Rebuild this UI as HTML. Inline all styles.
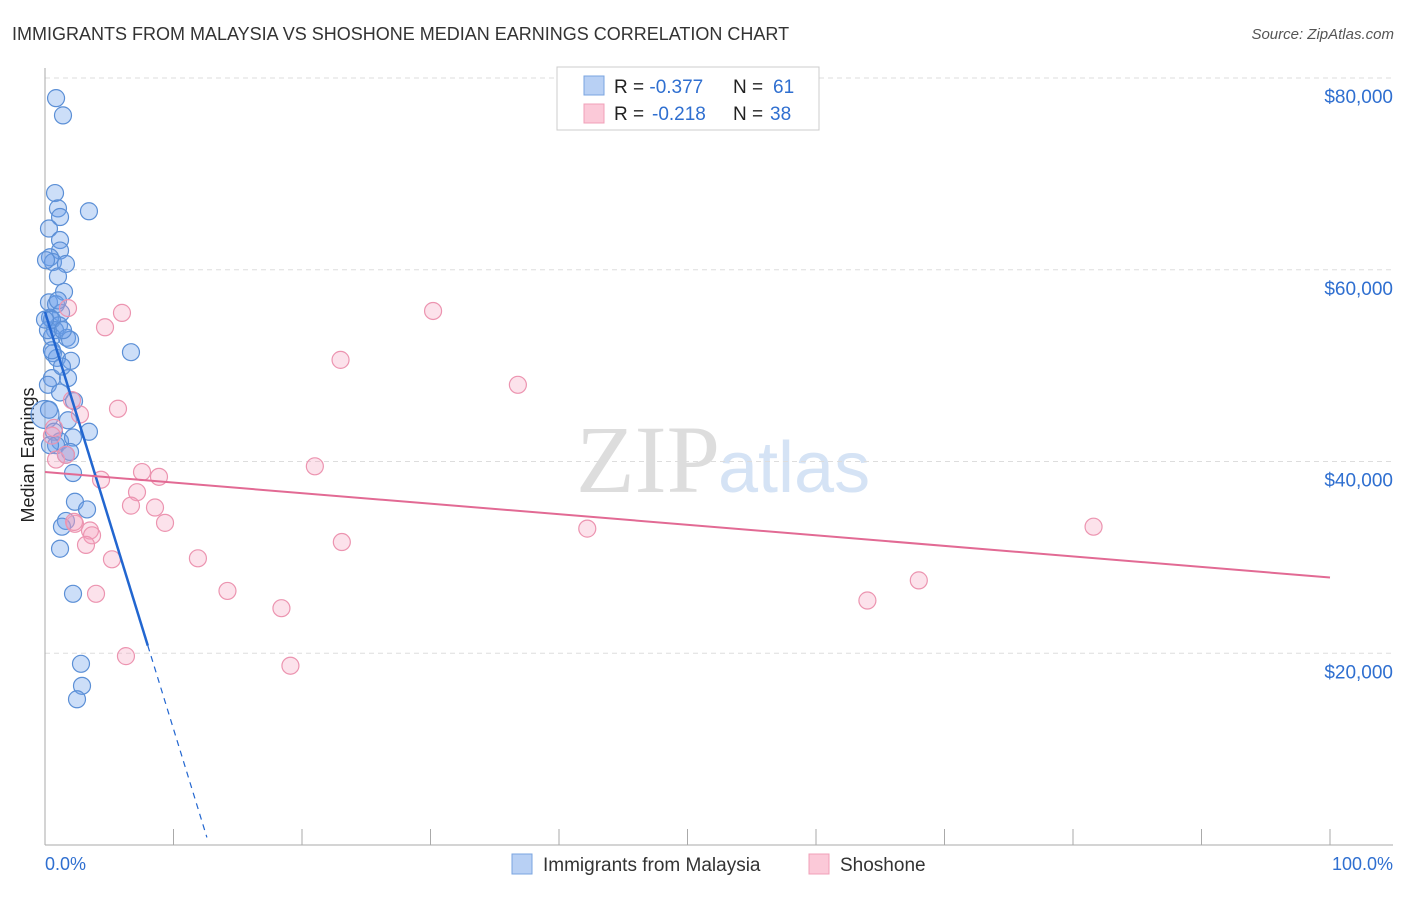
<!DOCTYPE html>
<html><head><meta charset="utf-8"><style>
body{margin:0;background:#fff;font-family:"Liberation Sans",sans-serif}
</style></head><body>
<svg id="c" width="1406" height="892" xmlns="http://www.w3.org/2000/svg">
<text x="12" y="40" font-size="18" fill="#333">IMMIGRANTS FROM MALAYSIA VS SHOSHONE MEDIAN EARNINGS CORRELATION CHART</text>
<text x="1394" y="39" font-size="15" fill="#555" font-style="italic" text-anchor="end">Source: ZipAtlas.com</text>
<text x="720" y="492" font-size="96" fill="#ddd" font-family="Liberation Serif,serif" text-anchor="end">ZIP</text>
<text x="718" y="492" font-size="72" fill="#d5e3f5">atlas</text>
<text transform="translate(34,455) rotate(-90)" font-size="18" fill="#222" text-anchor="middle">Median Earnings</text>
<g id="grid"></g><g id="pts"></g><g id="lines"></g>
<g>
<rect x="557" y="67" width="262" height="63" fill="#fff" stroke="#ccc"/>
<rect x="584" y="76" width="20" height="19" fill="#b8d0f4" stroke="#7aa4e0"/>
<rect x="584" y="104" width="20" height="19" fill="#fbc9d8" stroke="#f0a0b8"/>
<text x="614" y="93" font-size="19" fill="#222">R = <tspan fill="#2f6fd0">-0.377</tspan><tspan x="733">N = </tspan><tspan fill="#2f6fd0" x="773">61</tspan></text>
<text x="614" y="120" font-size="19" fill="#222">R = <tspan fill="#2f6fd0" x="652">-0.218</tspan><tspan x="733">N = </tspan><tspan fill="#2f6fd0" x="770">38</tspan></text>
</g>
<g>
<rect x="512" y="854" width="20" height="20" fill="#b8d0f4" stroke="#7aa4e0"/>
<text x="543" y="871" font-size="19" fill="#333">Immigrants from Malaysia</text>
<rect x="809" y="854" width="20" height="20" fill="#fbc9d8" stroke="#f0a0b8"/>
<text x="840" y="871" font-size="19" fill="#333">Shoshone</text>
</g>
<text x="45" y="870" font-size="18" fill="#2f6fd0">0.0%</text>
<text x="1393" y="870" font-size="18" fill="#2f6fd0" text-anchor="end">100.0%</text>
</svg>
<script>
const yTicks=[20,40,60,80];
const yTickLabels=["$20,000","$40,000","$60,000","$80,000"];
const blueX=[0.86,1.40,0.78,3.42,1.01,1.17,0.31,1.17,1.17,0.39,0.62,1.63,1.01,1.48,0.31,0.86,1.25,0.39,1.09,0.78,1.71,0.54,0.62,0.93,2.02,6.69,0.54,1.79,0.23,1.17,2.26,0.0,0.70,3.42,1.17,2.18,0.86,1.95,1.63,2.18,2.33,3.27,1.63,1.32,1.17,2.18,2.80,2.88,2.49,0.39,0.23,0.54,0.08,1.95,1.01,1.32,0.31,1.79,0.54,1.40,0];
const blueY=[77.9,76.1,68.0,66.1,66.4,65.5,64.3,63.1,62.0,61.3,60.8,60.6,59.3,57.7,56.6,56.4,55.5,55.0,54.2,53.7,52.9,53.0,51.3,50.8,50.5,51.4,48.7,48.7,48.0,47.2,46.3,44.9,43.1,43.1,42.1,42.5,41.7,41.0,40.7,38.8,35.8,35.0,33.8,33.2,30.9,26.2,18.9,16.6,15.2,41.7,53.7,54.8,61.0,52.7,56.8,49.9,45.4,44.3,51.6,53.7,54.8];
const pinkX=[1.79,4.67,5.99,30.2,23.0,36.8,2.72,5.68,2.10,0.70,0.54,0.86,1.63,4.36,7.55,8.87,7.16,6.69,8.56,9.34,21.0,2.33,3.50,3.66,3.19,5.21,11.9,23.1,42.2,81.6,3.97,14.2,18.4,68.0,64.0,6.30,19.1,2.26];
const pinkY=[56.0,54.0,55.5,55.7,50.6,48.0,44.9,45.5,46.4,43.5,42.7,40.2,40.7,38.1,38.9,38.4,36.8,35.4,35.2,33.6,39.5,33.5,32.8,32.3,31.3,29.8,29.9,31.6,33.0,33.2,26.2,26.5,24.7,27.6,25.5,19.7,18.7,33.7];
const blueTrend=[55.6,-4.35]; // intercept (k$), slope per %
const blueSolidEnd=8.0, blueDashEnd=12.6;
const pinkTrend=[38.9,-0.11];
const NS="http://www.w3.org/2000/svg";
const X=v=>45+v*12.85, Y=v=>845-v*9.5875;
function mk(t,a,p){const e=document.createElementNS(NS,t);for(const k in a)e.setAttribute(k,a[k]);p.appendChild(e);return e;}
const grid=document.getElementById('grid');
yTicks.forEach((t,i)=>{
 const l=mk('line',{x1:45,x2:1393,y1:Y(t),y2:Y(t),stroke:'#ddd','stroke-dasharray':'5,4'},grid);
 
 
 const tx=mk('text',{x:1393,y:Y(t)+25,'font-size':19,fill:'#2f6fd0','text-anchor':'end'},grid);
 tx.textContent=yTickLabels[i];
 
 
});
mk('line',{x1:45,x2:45,y1:68,y2:845,stroke:'#aaa'},grid);
mk('line',{x1:45,x2:1393,y1:845,y2:845,stroke:'#aaa'},grid);
for(let i=0;i<=10;i++){const t=mk('line',{x1:X(i*10),x2:X(i*10),y1:829,y2:845,stroke:'#aaa'},grid);
 
 }
const pts=document.getElementById('pts');
blueX.forEach((x,i)=>{const c=mk('circle',{cx:X(x),cy:Y(blueY[i]),r:i==31?14:8.5,fill:'rgba(110,160,235,0.35)',stroke:'#5b8fd6','stroke-width':1.2},pts);
 
 });
pinkX.forEach((x,i)=>{const c=mk('circle',{cx:X(x),cy:Y(pinkY[i]),r:8.5,fill:'rgba(245,160,190,0.3)',stroke:'#ec94b0','stroke-width':1.2},pts);
 
 });
const lines=document.getElementById('lines');
const bf=x=>blueTrend[0]+blueTrend[1]*x, pf=x=>pinkTrend[0]+pinkTrend[1]*x;
let l=mk('line',{x1:X(0),y1:Y(bf(0)),x2:X(blueSolidEnd),y2:Y(bf(blueSolidEnd)),stroke:'#2266d0','stroke-width':2.5},lines);


l=mk('line',{x1:X(blueSolidEnd),y1:Y(bf(blueSolidEnd)),x2:X(blueDashEnd),y2:Y(bf(blueDashEnd)),stroke:'#2266d0','stroke-width':1.2,'stroke-dasharray':'6,5'},lines);


l=mk('line',{x1:X(0),y1:Y(pf(0)),x2:X(100),y2:Y(pf(100)),stroke:'#e26a94','stroke-width':2},lines);


</script>
</body></html>
